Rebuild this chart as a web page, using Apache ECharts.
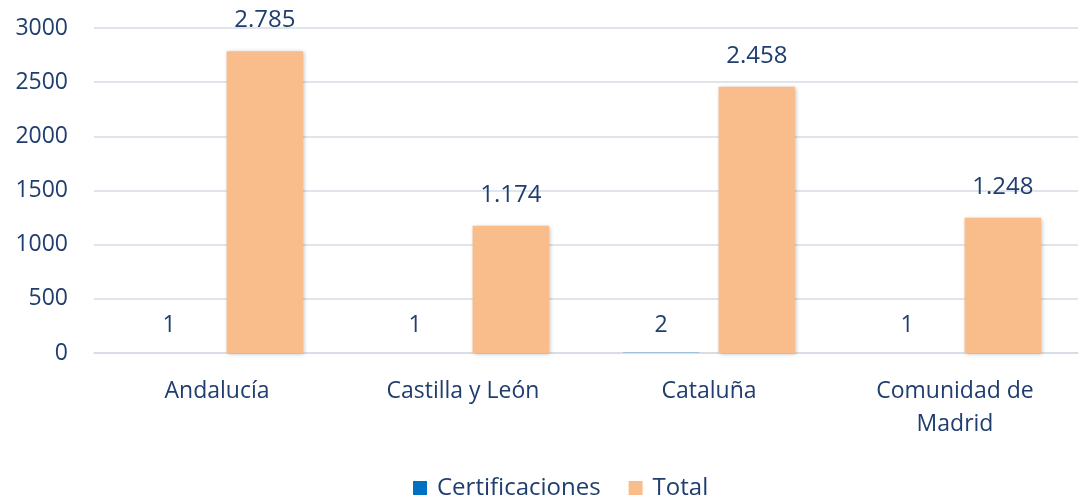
<!DOCTYPE html>
<html>
<head>
<meta charset="utf-8">
<script src="https://cdn.jsdelivr.net/npm/echarts@6/dist/echarts.min.js"></script>
<style>
  html, body { margin: 0; padding: 0; background: #fff; }
  #chart { width: 1086px; height: 499px; }
</style>
</head>
<body>
<div id="chart"></div>
<script>
// datos
var categorias = ['Andalucía', 'Castilla y León', 'Cataluña', 'Comunidad de\nMadrid'];
var certificaciones = [1, 1, 2, 1];
var total = [2785, 1174, 2458, 1248];
var ticksY = [0, 500, 1000, 1500, 2000, 2500, 3000];

var azul = '#1F3D6E';
var fuente = 'Open Sans';

// 2785 -> 2.785
function miles(v) {
    return String(v).replace(/\B(?=(\d{3})+(?!\d))/g, '.');
}

var chart = echarts.init(document.getElementById('chart'));

var option = {
    textStyle: { fontFamily: fuente },
    animation: false,
    // posicion del grafico
    grid: { left: 94, right: 8, top: 28, bottom: 146 },
    legend: {
        data: ['Certificaciones', 'Total'],
        bottom: -6,
        left: 408,
        itemWidth: 14,
        itemHeight: 14,
        itemGap: 28,
        icon: 'rect',
        textStyle: { color: azul, fontSize: 24, fontFamily: fuente, padding: [0, 0, 0, 5] }
    },
    xAxis: {
        type: 'category',
        data: categorias,
        axisLine: { lineStyle: { color: '#D6DCE5', width: 1.5 } },
        axisTick: { show: false },
        axisLabel: {
            color: azul,
            fontSize: 23,
            fontFamily: fuente,
            margin: 22,
            lineHeight: 33
        }
    },
    yAxis: {
        type: 'value',
        min: ticksY[0],
        max: ticksY[ticksY.length - 1],
        interval: 500,
        axisLine: { show: false },
        axisTick: { show: false },
        splitLine: { lineStyle: { color: '#D6DCE5', width: 1.5 } },
        axisLabel: {
            color: azul,
            fontSize: 23,
            fontFamily: fuente,
            margin: 26,
            formatter: function (v) { return String(v); }
        }
    },
    series: [
        {
            name: 'Certificaciones',
            type: 'bar',
            data: certificaciones,
            barGap: '25%',
            barCategoryGap: '30%',
            itemStyle: { color: '#0070C0' },
            label: {
                show: true,
                position: 'top',
                distance: 16,
                color: azul,
                fontSize: 23,
                fontFamily: fuente,
                formatter: function (p) { return miles(p.value); }
            }
        },
        {
            name: 'Total',
            type: 'bar',
            data: total,
            itemStyle: {
                color: '#F8BD8B',
                shadowColor: 'rgba(0,0,0,0.25)',
                shadowBlur: 4,
                shadowOffsetX: 1,
                shadowOffsetY: 1
            },
            label: {
                show: true,
                position: 'top',
                distance: 19,
                color: azul,
                fontSize: 24,
                fontFamily: fuente,
                formatter: function (p) { return miles(p.value); }
            }
        }
    ]
};

chart.setOption(option);
</script>
</body>
</html>
